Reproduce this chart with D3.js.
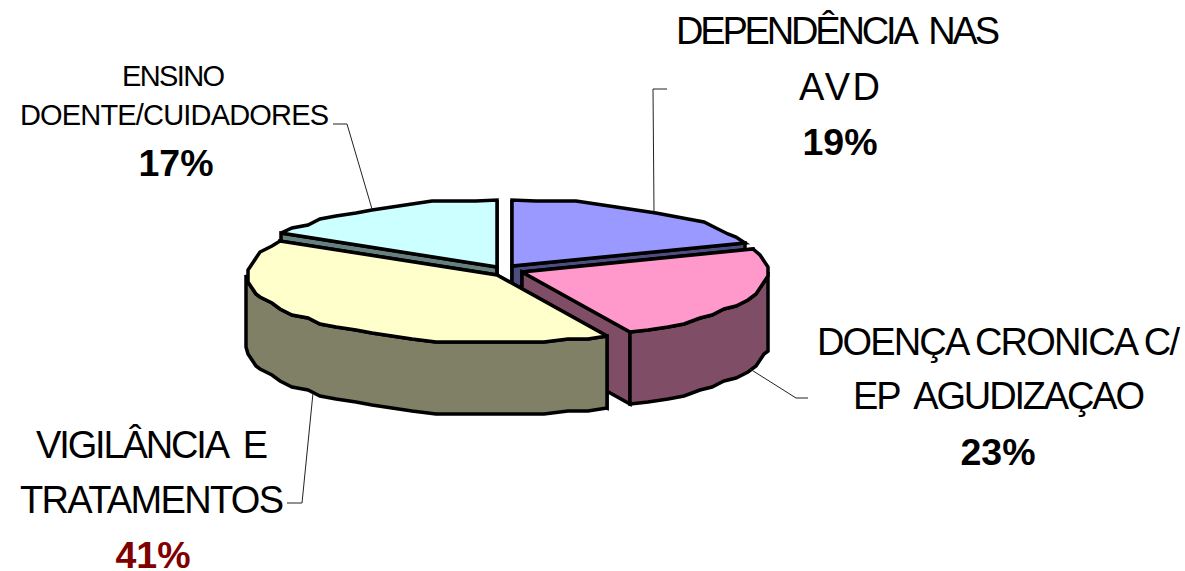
<!DOCTYPE html>
<html>
<head>
<meta charset="utf-8">
<script src="https://cdn.jsdelivr.net/npm/d3@7"></script>
<style>
  html, body { margin: 0; padding: 0; background: #fff; }
  svg { display: block; }
  text { font-family: "Liberation Sans", Arial, sans-serif; fill: #000; white-space: pre; }
</style>
</head>
<body>
<div id="chart"></div>
<script>
// Data
const categories = ["DEPENDÊNCIA NAS AVD", "DOENÇA CRONICA C/ EP AGUDIZAÇAO", "VIGILÂNCIA E TRATAMENTOS", "ENSINO DOENTE/CUIDADORES"];
const shares = [0.194, 0.234, 0.406, 0.166];
const topColors = ["#9999FF", "#FF99CC", "#FFFFCC", "#CCFFFF"];
const sideColors = ["#4D4D80", "#804D66", "#808066", "#668080"];

// Each slice is pulled out a little, so it has its own apex
const apexes = [[512, 266], [522, 272], [497, 275], [497, 267]];
const radii = [[248, 66], [246, 67], [251, 68], [250, 67]];
const depth = 72;
const drawOrder = [3, 0, 1, 2];

const width = 1185, height = 571;

const svg = d3.select("#chart")
    .append("svg")
    .attr("width", width)
    .attr("height", height);

const pie = d3.pie().sort(null).value(d => d).startAngle(0).endAngle(2 * Math.PI);
const slices = pie(shares);

const line = d3.line().x(d => d[0]).y(d => d[1]);

// Point on the squashed rim of slice i, angle clockwise from the top
function rim(i, a, drop = 0) {
    return [
        Math.round(apexes[i][0] + radii[i][0] * Math.sin(a)),
        Math.round(apexes[i][1] - radii[i][1] * Math.cos(a) + drop)
    ];
}

// Rim is coarse on purpose, the original outline is a rough polygon.
// Inner points snap to a grid to get the same small steps.
function arcPoints(i, a0, a1, drop = 0) {
    const n = Math.max(1, Math.round((a1 - a0) / (5 * Math.PI / 180)));
    return d3.range(n + 1).map(k => {
        const p = rim(i, a0 + (a1 - a0) * k / n, drop);
        if (k === 0 || k === n) return p;
        return [Math.round(p[0] / 4) * 4, Math.round(p[1] / 3) * 3];
    });
}

const pies = svg.append("g")
    .attr("stroke", "#000")
    .attr("stroke-width", 3.5)
    .attr("stroke-linejoin", "miter")
    .attr("stroke-miterlimit", 3);

drawOrder.forEach(i => {
    const s = slices[i];
    const [ax, ay] = apexes[i];
    const g = pies.append("g");

    // radial faces
    [s.startAngle, s.endAngle].forEach(a => {
        const p = rim(i, a);
        g.append("path")
            .attr("d", line([[ax, ay], p, [p[0], p[1] + depth], [ax, ay + depth]]) + "Z")
            .attr("fill", sideColors[i]);
    });

    // outer wall, only the part facing the viewer
    const a0 = Math.max(s.startAngle, Math.PI / 2);
    const a1 = Math.min(s.endAngle, 3 * Math.PI / 2);
    if (a1 > a0) {
        const pts = arcPoints(i, a0, a1).concat(arcPoints(i, a0, a1, depth).reverse());
        g.append("path")
            .attr("d", line(pts) + "Z")
            .attr("fill", sideColors[i]);
    }

    // top
    g.append("path")
        .attr("d", line([[ax, ay]].concat(arcPoints(i, s.startAngle, s.endAngle))) + "Z")
        .attr("fill", topColors[i]);
});

// Leader lines start on the rim at the middle of the slice
const leaderDrop = [0, depth, depth, 0];
const leaderElbows = [
    [[653, 89], [667, 89]],
    [[796, 398], [808, 398]],
    [[302, 503], [287, 503]],
    [[347, 124], [333, 124]]
];

svg.append("g")
    .selectAll("path")
    .data(slices)
    .join("path")
    .attr("d", (s, i) => line([rim(i, (s.startAngle + s.endAngle) / 2, leaderDrop[i])].concat(leaderElbows[i])))
    .attr("fill", "none")
    .attr("stroke", "#222")
    .attr("stroke-width", 1);

// Labels
const labelLines = [
    ["DEPENDÊNCIA  NAS", "A V D"],
    ["DOENÇA CRONICA C/", "EP  AGUDIZAÇAO"],
    ["VIGILÂNCIA  E", "TRATAMENTOS"],
    ["ENSINO", "DOENTE/CUIDADORES"]
];
const labelSpans = [
    [[676, 1000], [799, 880]],
    [[817, 1180], [853, 1145]],
    [[36, 268], [20, 284]],
    [[122, 225], [20, 329]]
];
const labelBaselines = [[44, 100], [355, 409], [458, 513], [86, 125]];
const labelSizes = [38, 38, 38, 29];
const pctCentres = [840, 998, 153, 176];
const pctBaselines = [155, 465, 568, 176];
const pctColors = ["#000", "#000", "#800000", "#000"];

const labels = svg.append("g");
labelLines.forEach((lines, i) => {
    lines.forEach((t, j) => {
        const [x0, x1] = labelSpans[i][j];
        labels.append("text")
            .attr("x", x0)
            .attr("y", labelBaselines[i][j])
            .attr("font-size", labelSizes[i])
            .attr("textLength", x1 - x0)
            .attr("lengthAdjust", "spacing")
            .text(t);
    });
    labels.append("text")
        .attr("x", pctCentres[i])
        .attr("y", pctBaselines[i])
        .attr("text-anchor", "middle")
        .attr("font-size", 37.5)
        .attr("font-weight", "bold")
        .style("fill", pctColors[i])
        .text(d3.format(".0%")(shares[i]));
});
</script>
</body>
</html>
